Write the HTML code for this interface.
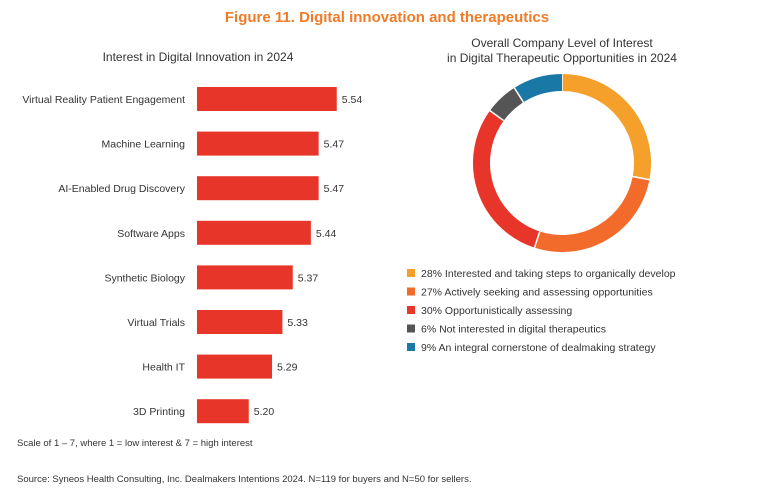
<!DOCTYPE html>
<html><head><meta charset="utf-8"><style>
body{margin:0;background:#fff;font-family:"Liberation Sans",sans-serif;}
svg text{font-family:"Liberation Sans",sans-serif;}
</style></head><body>
<svg id="c" width="775" height="492">
<text x="387" y="22" text-anchor="middle" font-size="15" font-weight="bold" fill="#f07c28">Figure 11. Digital innovation and therapeutics</text>
<text x="198" y="61" text-anchor="middle" font-size="12" fill="#333">Interest in Digital Innovation in 2024</text>
<text x="562" y="47" text-anchor="middle" font-size="12" fill="#333">Overall Company Level of Interest</text>
<text x="562" y="62" text-anchor="middle" font-size="12" fill="#333">in Digital Therapeutic Opportunities in 2024</text>
<g id="bars"></g>
<g id="donut"></g>
<g id="legend"></g>
<text x="17" y="446" font-size="9.5" fill="#333">Scale of 1 – 7, where 1 = low interest &amp; 7 = high interest</text>
<text x="17" y="482" font-size="9.5" fill="#333">Source: Syneos Health Consulting, Inc. Dealmakers Intentions 2024. N=119 for buyers and N=50 for sellers.</text>
</svg>
<script>
const categories=["Virtual Reality Patient Engagement","Machine Learning","AI-Enabled Drug Discovery","Software Apps","Synthetic Biology","Virtual Trials","Health IT","3D Printing"];
const values=[5.54,5.47,5.47,5.44,5.37,5.33,5.29,5.20];
const sliceLabels=["28% Interested and taking steps to organically develop","27% Actively seeking and assessing opportunities","30% Opportunistically assessing","6% Not interested in digital therapeutics","9% An integral cornerstone of dealmaking strategy"];
const sliceValues=[28,27,30,6,9];
const sliceColors=["#f5a02a","#f26b2a","#e8352a","#555555","#1a78a6"];
const NS="http://www.w3.org/2000/svg";
function mk(t,a,p){const e=document.createElementNS(NS,t);for(const k in a)e.setAttribute(k,a[k]);p.appendChild(e);return e;}
const xs=v=>197+(v-5.0)*258.8;
const ys=i=>99+i*44.6;
const bg=document.getElementById('bars');
categories.forEach((c,i)=>{
 const y=ys(i);
 const r=mk('rect',{x:197,y:y-12,width:xs(values[i])-197,height:24,fill:'#e8352a'},bg);
 
 
 const l=mk('text',{x:185,y:y+4,'text-anchor':'end','font-size':10.5,fill:'#333'},bg);l.textContent=c;
 
 
 const v=mk('text',{x:xs(values[i])+5,y:y+4,'font-size':10.5,fill:'#333'},bg);v.textContent=values[i].toFixed(2);
 
 
});
const dg=document.getElementById('donut');
const cx=562,cy=163,R=80.5,W=17;
const tot=sliceValues.reduce((a,b)=>a+b,0);let a0=0;
sliceValues.forEach((s,i)=>{
 const a1=a0+s/tot*2*Math.PI;
 const p=(a)=>[cx+R*Math.sin(a),cy-R*Math.cos(a)];
 const [x0,y0]=p(a0),[x1,y1]=p(a1);
 const path=mk('path',{d:`M${x0},${y0}A${R},${R} 0 ${a1-a0>Math.PI?1:0} 1 ${x1},${y1}`,fill:'none',stroke:sliceColors[i],'stroke-width':W},dg);
 
 
 const d=(a)=>[cx+(R+W/2+1)*Math.sin(a),cy-(R+W/2+1)*Math.cos(a),cx+(R-W/2-1)*Math.sin(a),cy-(R-W/2-1)*Math.cos(a)];
 const q=d(a0);mk('line',{x1:q[0],y1:q[1],x2:q[2],y2:q[3],stroke:'#fff','stroke-width':1.5},dg);
 a0=a1;
});
const lg=document.getElementById('legend');
sliceLabels.forEach((t,i)=>{
 const y=273+i*18.5;
 const r=mk('rect',{x:407,y:y-4,width:8,height:8,fill:sliceColors[i]},lg);
 
 
 const tx=mk('text',{x:421,y:y+4,'font-size':10.5,fill:'#333'},lg);tx.textContent=t;
 
 
});
</script>
</body></html>
